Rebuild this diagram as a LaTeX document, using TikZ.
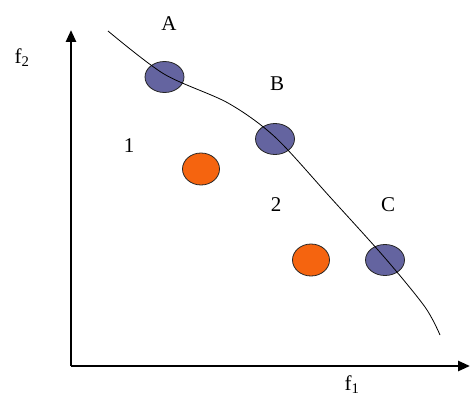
\documentclass[tikz,border=0pt]{standalone}
\usepackage{fontspec}
\setmainfont{Liberation Serif}
\usetikzlibrary{arrows.meta,shapes.geometric}
\definecolor{ptblue}{RGB}{100,100,160}
\definecolor{ptorange}{RGB}{245,100,15}
\begin{document}
\begin{tikzpicture}[x=1pt,y=-1pt,
  lbl/.style={font=\fontsize{21}{21}\selectfont, inner sep=0pt},
  optpt/.style={ellipse, draw=black!85, line width=0.8pt, fill=ptblue, minimum width=39pt, minimum height=31pt, inner sep=0pt},
  subpt/.style={ellipse, draw=black!85, line width=0.8pt, fill=ptorange, minimum width=37pt, minimum height=32pt, inner sep=0pt},
  axis/.style={line width=2.6pt, -{Triangle[length=12pt,width=10pt]}},
  front/.style={line width=0.8pt}]
\useasboundingbox (0,0) rectangle (470,398);
% axes
\coordinate (O) at (71,366);
\coordinate (ytop) at (71,30);
\coordinate (xend) at (470,366);
\draw[axis] (O) -- (ytop);
\draw[axis] (O) -- (xend);
% points
\node[optpt] (A) at (164.5,77) {};
\node[optpt] (B) at (275,139) {};
\node[optpt] (C) at (385,260) {};
\node[subpt] (P1) at (201,169) {};
\node[subpt] (P2) at (311,260) {};
% front curve
\coordinate (s) at (108,31);
\coordinate (e) at (440,335);
\draw[front] plot[smooth, tension=0.5] coordinates {(s) (164,74) (228,103) (275,137) (330,197) (385,258) (425,307) (e)};
% labels
\node[lbl] (lA) at (169,24) {A};
\node[lbl] (lB) at (277,84) {B};
\node[lbl] (lC) at (388,205) {C};
\node[lbl] (l1) at (129,146) {1};
\node[lbl] (l2) at (276,205) {2};
\node[lbl] (f2) at (22,58) {f\textsubscript{2}};
\node[lbl] (f1) at (352,385) {f\textsubscript{1}};
\end{tikzpicture}
\end{document}
